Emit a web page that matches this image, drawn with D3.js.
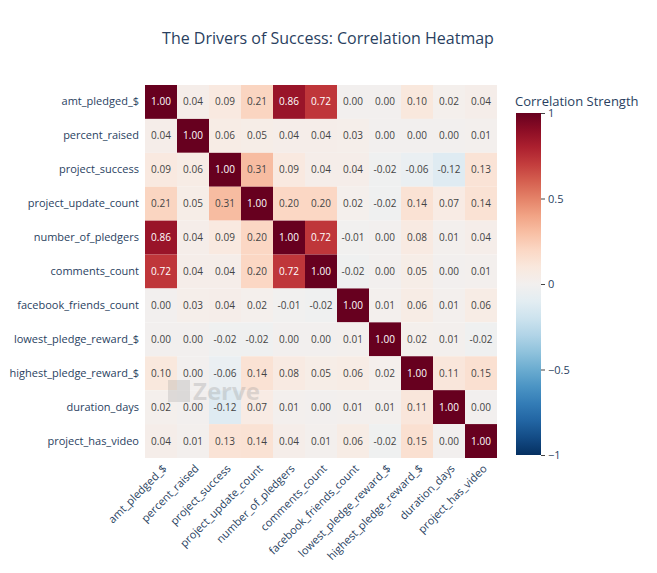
<!DOCTYPE html>
<html><head><meta charset="utf-8">
<script src="https://cdn.jsdelivr.net/npm/d3@7"></script>
<style>body{margin:0;background:#fff;font-family:"Open Sans",sans-serif;}</style>
</head><body><div id="chart"></div>
<script>
const variables = ["amt_pledged_$","percent_raised","project_success","project_update_count","number_of_pledgers","comments_count","facebook_friends_count","lowest_pledge_reward_$","highest_pledge_reward_$","duration_days","project_has_video"];
const corrRows = [
  [1.00,0.04,0.09,0.21,0.86,0.72,0.00,0.00,0.10,0.02,0.04],
  [0.04,1.00,0.06,0.05,0.04,0.04,0.03,0.00,0.00,0.00,0.01],
  [0.09,0.06,1.00,0.31,0.09,0.04,0.04,-0.02,-0.06,-0.12,0.13],
  [0.21,0.05,0.31,1.00,0.20,0.20,0.02,-0.02,0.14,0.07,0.14],
  [0.86,0.04,0.09,0.20,1.00,0.72,-0.01,0.00,0.08,0.01,0.04],
  [0.72,0.04,0.04,0.20,0.72,1.00,-0.02,0.00,0.05,0.00,0.01],
  [0.00,0.03,0.04,0.02,-0.01,-0.02,1.00,0.01,0.06,0.01,0.06],
  [0.00,0.00,-0.02,-0.02,0.00,0.00,0.01,1.00,0.02,0.01,-0.02],
  [0.10,0.00,-0.06,0.14,0.08,0.05,0.06,0.02,1.00,0.11,0.15],
  [0.02,0.00,-0.12,0.07,0.01,0.00,0.01,0.01,0.11,1.00,0.00],
  [0.04,0.01,0.13,0.14,0.04,0.01,0.06,-0.02,0.15,0.00,1.00]
];
const colorTicks = [1, 0.5, 0, -0.5, -1];
const colorTickLabels = ["1", "0.5", "0", "\u22120.5", "\u22121"];

const W = 657, H = 573;
const m = {left: 145, top: 85, right: 497, bottom: 458};
const svg = d3.select("#chart").append("svg").attr("width", W).attr("height", H);
const txt = "#2a3f5f";

const x = d3.scaleBand().domain(variables).range([m.left, m.right]);
const y = d3.scaleBand().domain(variables).range([m.top, m.bottom]);
const color = v => d3.interpolateRdBu((1 - v) / 2);

const cells = [];
corrRows.forEach((row, i) => row.forEach((v, j) => cells.push({r: variables[i], c: variables[j], v})));

svg.append("text").attr("x", 328).attr("y", 44).attr("text-anchor", "middle")
  .attr("font-size", 16).attr("fill", txt).text("The Drivers of Success: Correlation Heatmap");

svg.append("g").selectAll("rect").data(cells).join("rect")
  .attr("x", d => x(d.c)).attr("y", d => y(d.r))
  .attr("width", x.bandwidth()).attr("height", y.bandwidth())
  .attr("fill", d => color(d.v));

// watermark (faint logo)
svg.append("rect").attr("x", 168).attr("y", 380).attr("width", 22).attr("height", 22)
  .attr("fill", "#999").attr("opacity", 0.25);
svg.append("text").attr("x", 193).attr("y", 400).attr("font-size", 24)
  .attr("fill", "#999").attr("opacity", 0.3).attr("font-weight", "bold").text("Zerve");

svg.append("g").selectAll("text").data(cells).join("text")
  .attr("x", d => x(d.c) + x.bandwidth() / 2).attr("y", d => y(d.r) + y.bandwidth() / 2)
  .attr("dy", "0.35em").attr("text-anchor", "middle").attr("font-size", 10)
  .attr("fill", d => Math.abs(d.v) > 0.5 ? "#fff" : "#444")
  .text(d => d.v.toFixed(2));

const yAx = svg.append("g").attr("transform", `translate(${m.left},0)`)
  .call(d3.axisLeft(y).tickSize(0).tickPadding(6));
yAx.select(".domain").remove();
yAx.selectAll("text").attr("font-size", 11).attr("fill", txt).attr("font-family", "Open Sans");

const xAx = svg.append("g").attr("transform", `translate(0,${m.bottom})`)
  .call(d3.axisBottom(x).tickSize(0).tickPadding(6));
xAx.select(".domain").remove();
xAx.selectAll("text").attr("font-size", 11).attr("fill", txt).attr("font-family", "Open Sans")
  .attr("text-anchor", "end").attr("transform", "rotate(-45)").attr("dx", "-0.3em").attr("dy", "0.6em");

// colorbar
const cb = {x: 516, w: 25, top: 113, bottom: 455};
const cy = d3.scaleLinear().domain([1, -1]).range([cb.top, cb.bottom]);
const defs = svg.append("defs");
const grad = defs.append("linearGradient").attr("id", "g").attr("x1", 0).attr("x2", 0).attr("y1", 0).attr("y2", 1);
d3.range(0, 1.001, 0.05).forEach(t => grad.append("stop").attr("offset", t).attr("stop-color", color(1 - 2 * t)));
svg.append("rect").attr("x", cb.x).attr("y", cb.top).attr("width", cb.w).attr("height", cb.bottom - cb.top).attr("fill", "url(#g)");
const cAx = svg.append("g").attr("transform", `translate(${cb.x + cb.w},0)`)
  .call(d3.axisRight(cy).tickValues(colorTicks).tickFormat((d, i) => colorTickLabels[i]).tickSize(4).tickPadding(3));
cAx.select(".domain").remove();
cAx.selectAll("line").attr("stroke", "#444");
cAx.selectAll("text").attr("font-size", 11).attr("fill", txt).attr("font-family", "Open Sans");
svg.append("text").attr("x", 515).attr("y", 106).attr("font-size", 13).attr("fill", txt).text("Correlation Strength");
</script></body></html>
